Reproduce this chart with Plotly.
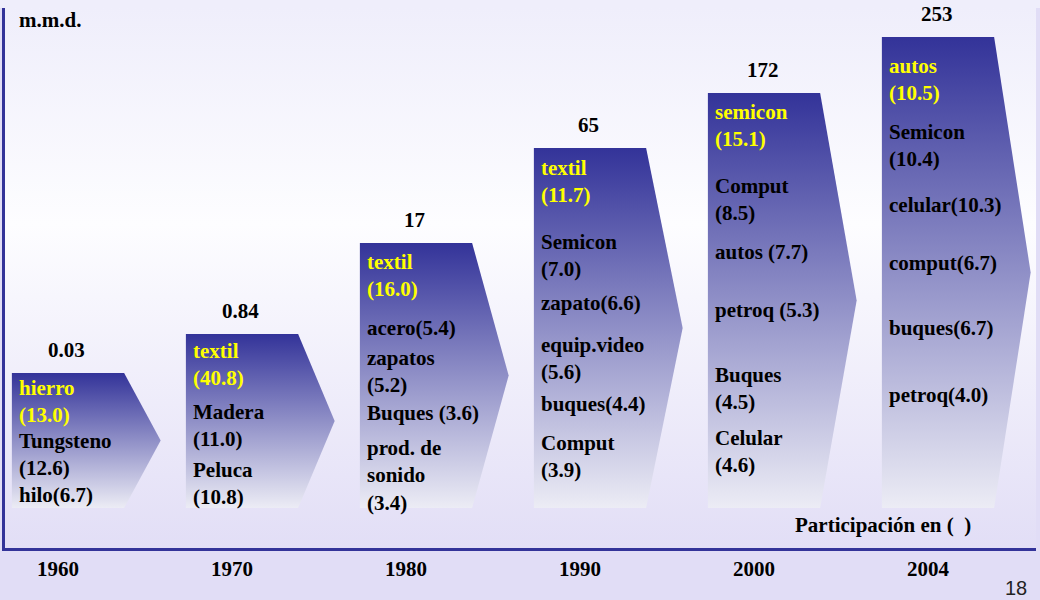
import plotly.graph_objects as go

# chart data
years = ["1960", "1970", "1980", "1990", "2000", "2004"]
exports = [0.03, 0.84, 17, 65, 172, 253]          # m.m.d.
arrow_top = [135, 174, 265, 360, 415, 471]        # drawn arrow height (not to scale)

items_1960 = ["hierro<br>(13.0)", "Tungsteno<br>(12.6)", "hilo(6.7)"]
items_1970 = ["textil<br>(40.8)", "Madera<br>(11.0)", "Peluca<br>(10.8)"]
items_1980 = ["textil<br>(16.0)", "acero(5.4)", "zapatos<br>(5.2)", "Buques (3.6)",
              "prod. de<br>sonido<br>(3.4)"]
items_1990 = ["textil<br>(11.7)", "Semicon<br>(7.0)", "zapato(6.6)", "equip.video<br>(5.6)",
              "buques(4.4)", "Comput<br>(3.9)"]
items_2000 = ["semicon<br>(15.1)", "Comput<br>(8.5)", "autos (7.7)", "petroq (5.3)",
              "Buques<br>(4.5)", "Celular<br>(4.6)"]
items_2004 = ["autos<br>(10.5)", "Semicon<br>(10.4)", "celular(10.3)", "comput(6.7)",
              "buques(6.7)", "petroq(4.0)"]

items = [items_1960, items_1970, items_1980, items_1990, items_2000, items_2004]

# vertical placement of each item's first line inside its arrow (chart units above the base)
label_y = [
    [120, 67, 13],
    [157, 96, 38],
    [246, 180, 150, 95, 60],
    [340, 266, 205, 163, 104, 65],
    [396, 322, 256, 198, 133, 70],
    [442, 376, 303, 245, 180, 113],
]

SERIF = "Liberation Serif, Times New Roman, serif"
AXIS_BLUE = "#333399"
X_RANGE = [-0.3046, 5.6207]
Y_RANGE = [-40, 500]

fig = go.Figure()

# slide background gradient
fig.add_trace(go.Scatter(
    x=[X_RANGE[0], X_RANGE[1], X_RANGE[1], X_RANGE[0]],
    y=[Y_RANGE[0], Y_RANGE[0], Y_RANGE[1], Y_RANGE[1]],
    fill="toself", mode="lines", line=dict(width=0),
    fillgradient=dict(type="vertical",
                      colorscale=[[0, "#e2def6"], [0.6, "#fdfdff"], [1, "#efeefb"]]),
    hoverinfo="skip", showlegend=False,
))

# arrows
for i, top in enumerate(arrow_top):
    left, right, tip = i - 0.265, i + 0.38, i + 0.59
    fig.add_trace(go.Scatter(
        x=[left, right, tip, right, left, left],
        y=[top, top, top / 2, 0, 0, top],
        fill="toself", mode="lines", line=dict(width=0),
        fillgradient=dict(type="vertical",
                          colorscale=[[0, "#ececf5"], [1, "#333399"]]),
        hoverinfo="skip", showlegend=False,
    ))

annotations = []
for i, (val, top) in enumerate(zip(exports, arrow_top)):
    annotations.append(dict(
        x=i + 0.05, y=top + 23, text=f"<b>{val:g}</b>", showarrow=False,
        xanchor="center", yanchor="middle",
        font=dict(family=SERIF, size=21, color="black"),
    ))
    for j, (txt, yy) in enumerate(zip(items[i], label_y[i])):
        annotations.append(dict(
            x=i - 0.235, y=yy + 14, text=f"<b>{txt}</b>", showarrow=False,
            xanchor="left", yanchor="top", align="left",
            font=dict(family=SERIF, size=21, color="#ffff00" if j == 0 else "black"),
        ))

annotations.append(dict(
    x=-0.2356, y=488, text="<b>m.m.d.</b>", showarrow=False,
    xanchor="left", yanchor="middle",
    font=dict(family=SERIF, size=21, color="black"),
))
annotations.append(dict(
    x=4.224, y=-17, text="<b>Participación en (  )</b>", showarrow=False,
    xanchor="left", yanchor="middle",
    font=dict(family=SERIF, size=21, color="black"),
))
annotations.append(dict(
    x=0.981, y=-0.074, xref="paper", yref="paper", text="18", showarrow=False,
    xanchor="center", yanchor="middle",
    font=dict(family="Liberation Sans", size=20, color="#222222"),
))

fig.update_layout(
    width=1040, height=600,
    margin=dict(l=5, r=4, t=8, b=52),
    paper_bgcolor="#e1ddf6", plot_bgcolor="#fdfdff",
    annotations=annotations,
    # top strip of the slide above the plot area
    shapes=[dict(type="rect", xref="paper", yref="paper", x0=-0.01, x1=1.01,
                 y0=1, y1=1.02, fillcolor="#efeefb", line=dict(width=0), layer="below")],
    showlegend=False,
)
fig.update_xaxes(
    range=X_RANGE, showgrid=False, zeroline=False,
    showline=True, linecolor=AXIS_BLUE, linewidth=3,
    tickvals=list(range(len(years))), ticktext=[f"<b>{y}</b>" for y in years], ticks="",
    tickfont=dict(family=SERIF, size=21, color="black"),
)
fig.update_yaxes(
    range=Y_RANGE, showgrid=False, zeroline=False,
    showline=True, linecolor=AXIS_BLUE, linewidth=3,
    showticklabels=False, ticks="",
)

fig.write_html("out.html", config={"displayModeBar": False},
               post_script="document.body.style.margin = '0';")
